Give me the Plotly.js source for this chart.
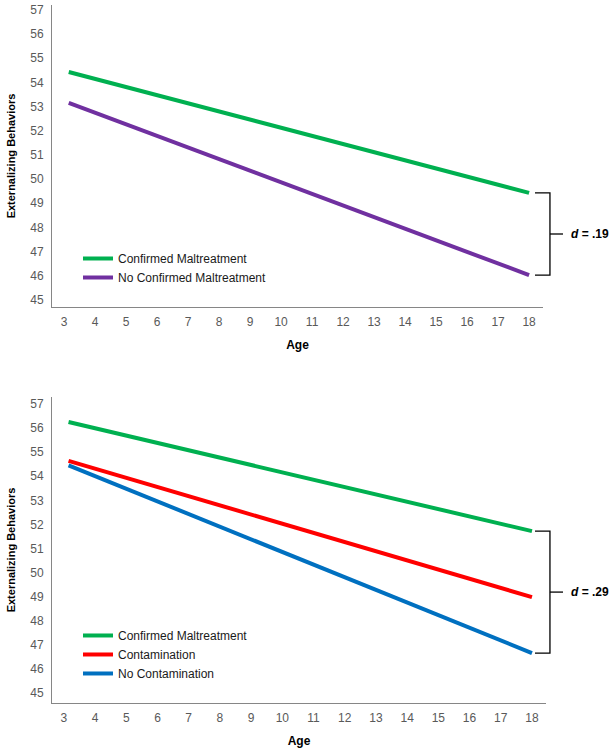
<!DOCTYPE html>
<html><head><meta charset="utf-8">
<script src="https://cdn.plot.ly/plotly-3.0.1.min.js"></script>
<style>html,body{margin:0;padding:0;background:#fff}</style>
</head><body><div id="chart" style="width:616px;height:749px"></div>
<script>
// ---- data ----
const ages = [3.15, 18];
const topConfirmed = [54.43, 49.43];
const topNoConfirmed = [53.15, 46.03];
const bottomConfirmed = [56.25, 51.72];
const bottomContamination = [54.64, 48.98];
const bottomNoContamination = [54.45, 46.66];
const yTickVals = [45, 46, 47, 48, 49, 50, 51, 52, 53, 54, 55, 56, 57];
const xTickVals = [3, 4, 5, 6, 7, 8, 9, 10, 11, 12, 13, 14, 15, 16, 17, 18];
const topNames = ['Confirmed Maltreatment', 'No Confirmed Maltreatment'];
const bottomNames = ['Confirmed Maltreatment', 'Contamination', 'No Contamination'];
const effectTop = '<i>d</i> = .19';
const effectBottom = '<i>d</i> = .29';
const xTitle = 'Age';
const yTitle = 'Externalizing Behaviors';

const GREEN = '#00B050', PURPLE = '#7030A0', RED = '#FF0000', BLUE = '#0070C0';
const FONT = 'Liberation Sans, Arial, sans-serif';

function line(y, name, color, xa, ya, leg) {
  return {x: ages, y: y, name: name, type: 'scatter', mode: 'lines',
    line: {color: color, width: 4}, xaxis: xa, yaxis: ya, legend: leg, hoverinfo: 'skip'};
}

const traces = [
  line(topConfirmed, topNames[0], GREEN, 'x', 'y', 'legend'),
  line(topNoConfirmed, topNames[1], PURPLE, 'x', 'y', 'legend'),
  line(bottomConfirmed, bottomNames[0], GREEN, 'x2', 'y2', 'legend2'),
  line(bottomContamination, bottomNames[1], RED, 'x2', 'y2', 'legend2'),
  line(bottomNoContamination, bottomNames[2], BLUE, 'x2', 'y2', 'legend2')
];

function xAxis(domain, range, anchor) {
  return {domain: domain, range: range, anchor: anchor, tickvals: xTickVals,
    showgrid: false, zeroline: false, showline: true, linecolor: '#868686', linewidth: 1,
    ticks: 'outside', ticklen: 4, tickcolor: 'rgba(0,0,0,0)',
    tickfont: {family: FONT, size: 12, color: '#595959'},
    title: {text: xTitle, standoff: 12, font: {family: FONT, size: 12, color: '#000', weight: 'bold'}}};
}
function yAxis(domain, range, anchor) {
  return {domain: domain, range: range, anchor: anchor, tickvals: yTickVals,
    showgrid: false, zeroline: false, showline: true, linecolor: '#868686', linewidth: 1,
    ticks: 'outside', ticklen: 5, tickcolor: 'rgba(0,0,0,0)',
    tickfont: {family: FONT, size: 12, color: '#595959'},
    title: {text: yTitle, standoff: 12, font: {family: FONT, size: 11, color: '#000', weight: 'bold'}}};
}

function bracket(yref, yTop, yBot) {
  const mid = (yTop + yBot) / 2;
  const x0 = 0.9777, xv = 1.008, xt = 1.0344;
  return [
    {type: 'path', xref: 'paper', yref: yref,
      path: `M ${x0},${yTop} L ${xv},${yTop} L ${xv},${yBot} L ${x0},${yBot}`,
      line: {color: '#000', width: 1.3}},
    {type: 'line', xref: 'paper', yref: yref, x0: xv, x1: xt, y0: mid, y1: mid,
      line: {color: '#000', width: 1.3}}
  ];
}
function effectLabel(yref, yTop, yBot, text) {
  return {xref: 'paper', yref: yref, x: 1.0466, y: (yTop + yBot) / 2, xanchor: 'left', yanchor: 'middle',
    text: '<b>' + text + '</b>', showarrow: false, font: {family: FONT, size: 12, color: '#000'}};
}

const legendBase = {bgcolor: 'rgba(0,0,0,0)', borderwidth: 0, xanchor: 'left', yanchor: 'top',
  font: {family: FONT, size: 12, color: '#1a1a1a'}, tracegroupgap: 0, itemwidth: 30};

const layout = {
  width: 616, height: 749,
  margin: {l: 52, r: 70, t: 5, b: 46},
  paper_bgcolor: '#fff', plot_bgcolor: '#fff',
  font: {family: FONT},
  xaxis: xAxis([0, 0.994], [2.61, 18.45], 'y'),
  yaxis: yAxis([0.5673, 1], [44.71, 57.2], 'x'),
  xaxis2: xAxis([0, 1], [2.62, 18.45], 'y2'),
  yaxis2: yAxis([0, 0.4384], [44.585, 57.29], 'x2'),
  legend: Object.assign({}, legendBase, {x: 0.0526, y: 0.6576}),
  legend2: Object.assign({}, legendBase, {x: 0.0526, y: 0.1175}),
  shapes: [].concat(
    bracket('y', topConfirmed[1], topNoConfirmed[1]),
    bracket('y2', bottomConfirmed[1], bottomNoContamination[1])
  ),
  annotations: [
    effectLabel('y', topConfirmed[1], topNoConfirmed[1], effectTop),
    effectLabel('y2', bottomConfirmed[1], bottomNoContamination[1], effectBottom)
  ],
  showlegend: true
};

Plotly.newPlot('chart', traces, layout, {displayModeBar: false, staticPlot: true});
</script></body></html>
